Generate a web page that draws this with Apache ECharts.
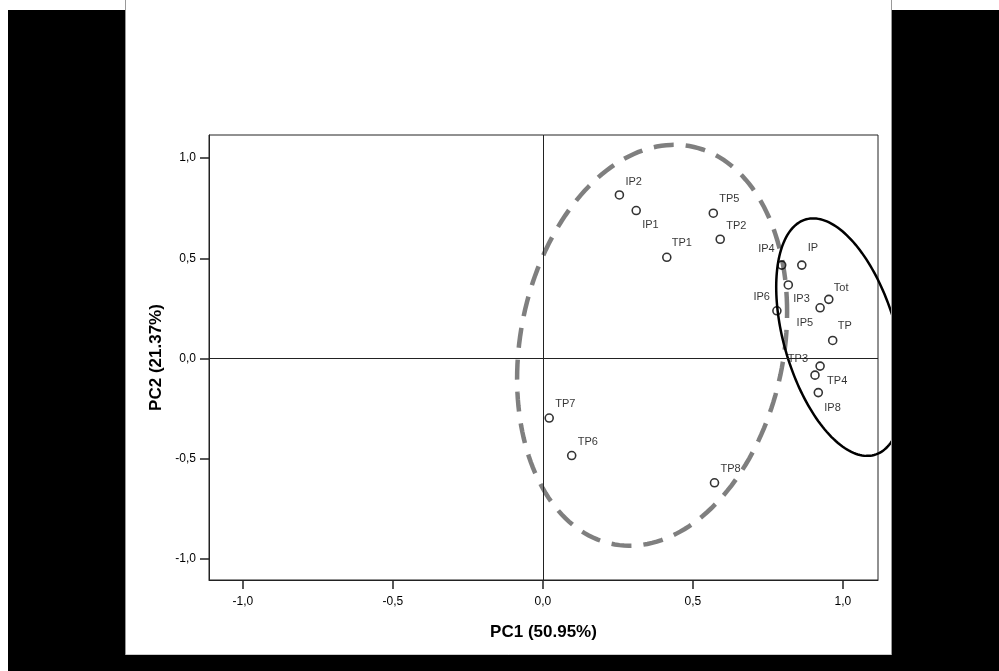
<!DOCTYPE html>
<html>
<head>
<meta charset="utf-8">
<script src="https://cdn.jsdelivr.net/npm/echarts@6/dist/echarts.min.js"></script>
<style>
html,body{margin:0;padding:0;background:#fff;}
#chart{width:999px;height:671px;}
</style>
</head>
<body>
<div id="chart"></div>
<script>
// ---- data ----
const pointNames = ['IP2','IP1','TP1','TP5','TP2','IP4','IP','IP3','Tot','IP5','IP6','TP','TP4','TP3','IP8','TP7','TP6','TP8'];
const pc1Values  = [0.255,0.311,0.413,0.568,0.591,0.796,0.863,0.818,0.953,0.924,0.780,0.966,0.924,0.907,0.918,0.021,0.096,0.572];
const pc2Values  = [0.816,0.738,0.505,0.725,0.595,0.466,0.466,0.367,0.295,0.253,0.238,0.090,-0.038,-0.083,-0.170,-0.297,-0.484,-0.620];
const tickValues = [-1.0,-0.5,0.0,0.5,1.0];
const xTitle = 'PC1 (50.95%)';
const yTitle = 'PC2 (21.37%)';
// group ellipses (data units): centre and two conjugate half-axis vectors
const dashedCenter = [0.364, 0.066];
const dashedAxes   = [[0.45, 0.1667],[0, 0.986]];
const solidCenter  = [0.991, 0.1065];
const solidAxes    = [[0.2133, -0.25],[0, 0.537]];

// ---- label placement (style only) ----
const labelPlace = {
  IP2:['left',6,-13], IP1:['left',6,14], TP1:['left',5,-14], TP5:['left',6,-14], TP2:['left',6,-13],
  IP4:['right',-7,-16], IP:['left',6,-17], IP3:['left',5,14], Tot:['left',5,-11], IP5:['right',-7,15],
  IP6:['right',-7,-14], TP:['left',5,-14], TP4:['left',7,15], TP3:['right',-7,-16], IP8:['left',6,15],
  TP7:['left',6,-14], TP6:['left',6,-14], TP8:['left',6,-14]
};

const FONT = '"Liberation Sans", Arial, sans-serif';
const fmt = v => v.toFixed(1).replace('.', ',');

const scatterData = pointNames.map((n, i) => {
  const p = labelPlace[n];
  return {
    name: n,
    value: [pc1Values[i], pc2Values[i]],
    label: { show: true, formatter: n, position: 'inside', align: p[0], verticalAlign: 'middle', offset: [p[1], p[2]] }
  };
});

function ellipseRenderer(axes, style) {
  return function (params, api) {
    const cx = api.value(0), cy = api.value(1);
    const pts = [];
    const N = 180;
    for (let k = 0; k < N; k++) {
      const t = 2 * Math.PI * k / N;
      const x = cx + axes[0][0] * Math.cos(t) + axes[1][0] * Math.sin(t);
      const y = cy + axes[0][1] * Math.cos(t) + axes[1][1] * Math.sin(t);
      pts.push(api.coord([x, y]));
    }
    return { type: 'polygon', shape: { points: pts }, style: style, silent: true };
  };
}

const chart = echarts.init(document.getElementById('chart'), null, { renderer: 'canvas' });
chart.setOption({
  backgroundColor: '#fff',
  animation: false,
  grid: { left: 209, top: 135, width: 669, height: 445, show: true, borderColor: '#222', borderWidth: 1, backgroundColor: 'transparent' },
  xAxis: {
    type: 'value', min: -1.113, max: 1.117,
    axisLine: { show: true, onZero: false, lineStyle: { color: '#222', width: 1 } },
    axisTick: { show: true, inside: false, length: 9, customValues: tickValues, lineStyle: { color: '#222', width: 1.5 } },
    axisLabel: { customValues: tickValues, formatter: fmt, margin: 16, fontSize: 12, color: '#000', fontFamily: FONT },
    splitLine: { show: false },
    name: xTitle, nameLocation: 'middle', nameGap: 44,
    nameTextStyle: { fontSize: 17, fontWeight: 'bold', color: '#000', fontFamily: FONT }
  },
  yAxis: {
    type: 'value', min: -1.105, max: 1.115,
    axisLine: { show: true, onZero: false, lineStyle: { color: '#222', width: 1 } },
    axisTick: { show: true, inside: false, length: 9, customValues: tickValues, lineStyle: { color: '#222', width: 1.5 } },
    axisLabel: { customValues: tickValues, formatter: fmt, margin: 13, fontSize: 12, color: '#000', fontFamily: FONT },
    splitLine: { show: false },
    name: yTitle, nameLocation: 'middle', nameGap: 44,
    nameTextStyle: { fontSize: 17, fontWeight: 'bold', color: '#000', fontFamily: FONT }
  },
  series: [
    {
      type: 'custom', coordinateSystem: 'cartesian2d', clip: false, silent: true, z: 3,
      data: [dashedCenter],
      renderItem: ellipseRenderer(dashedAxes, { fill: 'none', stroke: '#7f7f7f', lineWidth: 4.5, lineDash: [20, 12] })
    },
    {
      type: 'custom', coordinateSystem: 'cartesian2d', clip: false, silent: true, z: 3,
      data: [solidCenter],
      renderItem: ellipseRenderer(solidAxes, { fill: 'none', stroke: '#000', lineWidth: 2.5 })
    },
    {
      type: 'scatter', z: 4,
      symbol: 'circle', symbolSize: 8,
      itemStyle: { color: 'rgba(255,255,255,0)', borderColor: '#000', borderWidth: 1.6 },
      label: { fontSize: 11, color: '#000', fontFamily: FONT },
      data: scatterData,
      markLine: {
        silent: true, symbol: ['none', 'none'], label: { show: false },
        lineStyle: { color: '#222', width: 1, type: 'solid' },
        data: [{ xAxis: 0 }, { yAxis: 0 }]
      }
    }
  ],
  graphic: [
    { type: 'rect', z: 100, shape: { x: 125.5, y: -5, width: 766, height: 660 }, style: { fill: 'none', stroke: '#999', lineWidth: 1 } },
    { type: 'rect', z: 101, shape: { x: 8, y: 10, width: 117, height: 661 }, style: { fill: '#000' } },
    { type: 'rect', z: 101, shape: { x: 892, y: 10, width: 107, height: 661 }, style: { fill: '#000' } },
    { type: 'rect', z: 101, shape: { x: 8, y: 655, width: 991, height: 16 }, style: { fill: '#000' } }
  ]
});
</script>
</body>
</html>
